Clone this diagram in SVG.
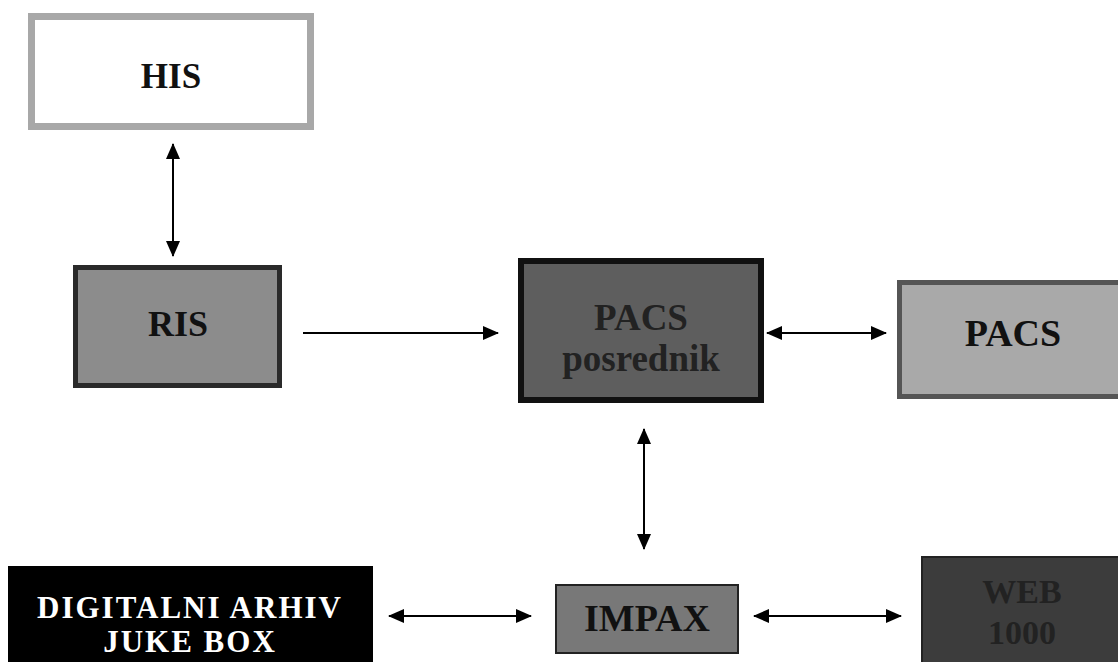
<svg xmlns="http://www.w3.org/2000/svg" width="1118" height="662" viewBox="0 0 1118 662">
<style>
.t{font-family:"Liberation Serif","Times New Roman",serif;font-weight:bold;text-anchor:middle}
.c{stroke:#000;stroke-width:2;fill:none}
</style>
<defs>
<marker id="ah" viewBox="0 0 16 14" refX="15" refY="7" markerWidth="16" markerHeight="14" markerUnits="userSpaceOnUse" orient="auto-start-reverse">
<path d="M0,0 L16,7 L0,14 Z" fill="#000"/>
</marker>
</defs>
<rect width="1118" height="662" fill="#fff"/>
<g id="his">
<rect x="31.5" y="16.5" width="279" height="110" fill="#fff" stroke="#a8a8a8" stroke-width="7"/>
<text class="t" x="171" y="88" font-size="35" fill="#111">HIS</text>
</g>
<g id="ris">
<rect x="75.5" y="267.5" width="204" height="118" fill="#8c8c8c" stroke="#2a2a2a" stroke-width="5"/>
<text class="t" x="178" y="336" font-size="36" fill="#111">RIS</text>
</g>
<g id="pacs-posrednik">
<rect x="521" y="261" width="240" height="139" fill="#5e5e5e" stroke="#111" stroke-width="6"/>
<text class="t" x="641" y="330" font-size="37" fill="#222">PACS</text>
<text class="t" x="641" y="371" font-size="37" fill="#222">posrednik</text>
</g>
<g id="pacs">
<rect x="899.5" y="282.5" width="225" height="114" fill="#a9a9a9" stroke="#555" stroke-width="5"/>
<text class="t" x="1013" y="346" font-size="38" fill="#111">PACS</text>
</g>
<g id="digitalni-arhiv">
<rect x="8" y="566" width="365" height="100" fill="#000"/>
<text class="t" x="190" y="618" font-size="31" fill="#fff" letter-spacing="2">DIGITALNI ARHIV</text>
<text class="t" x="190" y="652" font-size="31" fill="#fff" letter-spacing="2">JUKE BOX</text>
</g>
<g id="impax">
<rect x="556" y="585" width="182" height="68" fill="#787878" stroke="#222" stroke-width="2"/>
<text class="t" x="647" y="631" font-size="38" fill="#111">IMPAX</text>
</g>
<g id="web1000">
<rect x="922" y="557" width="200" height="110" fill="#3c3c3c" stroke="#222" stroke-width="2"/>
<text class="t" x="1022" y="603" font-size="34" fill="#222">WEB</text>
<text class="t" x="1022" y="644" font-size="34" fill="#222">1000</text>
</g>
<g id="connectors">
<line class="c" x1="173" y1="144" x2="173" y2="256" marker-start="url(#ah)" marker-end="url(#ah)"/>
<line class="c" x1="303" y1="333" x2="498" y2="333" marker-end="url(#ah)"/>
<line class="c" x1="767" y1="333" x2="886" y2="333" marker-start="url(#ah)" marker-end="url(#ah)"/>
<line class="c" x1="644" y1="429" x2="644" y2="549" marker-start="url(#ah)" marker-end="url(#ah)"/>
<line class="c" x1="389" y1="616" x2="531" y2="616" marker-start="url(#ah)" marker-end="url(#ah)"/>
<line class="c" x1="754" y1="616" x2="901" y2="616" marker-start="url(#ah)" marker-end="url(#ah)"/>
</g>
</svg>
